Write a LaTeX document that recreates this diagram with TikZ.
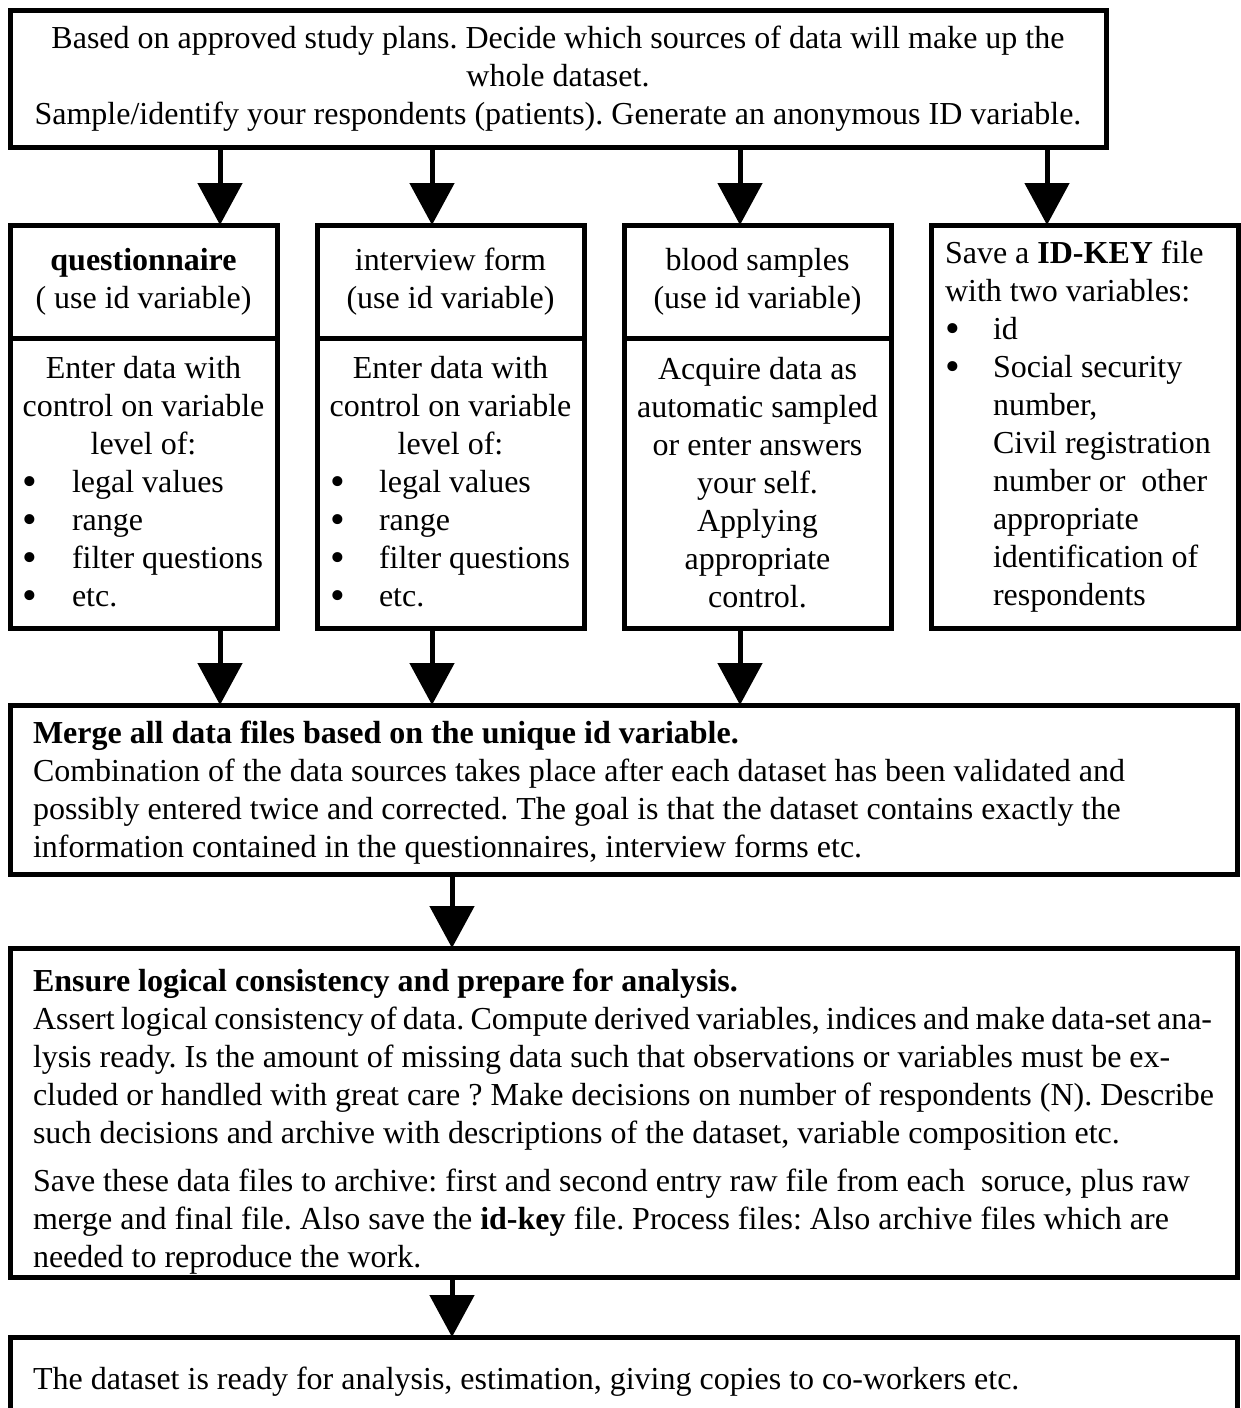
\documentclass[tikz,border=0pt]{standalone}
\usepackage{fontspec}
\setmainfont{Liberation Serif}
\usetikzlibrary{arrows.meta}
\frenchspacing

% round bullet a little larger than the text bullet
\newcommand{\dotmark}{\raisebox{-1.6pt}{\fontsize{21}{19}\selectfont\textbullet}}
% bullet with a fixed hanging indent, for the entry boxes and the key box
\newcommand{\itemdot}{\makebox[25.5pt][l]{\hspace{1pt}\dotmark}}
\newcommand{\keydot}{\makebox[24pt][l]{\dotmark}}
% left-aligned text block whose long lines may run past the nominal width
\newcommand{\wideblock}[1]{\makebox[590.5pt][l]{\parbox{606pt}{\raggedright #1}}}

\begin{document}
\begin{tikzpicture}[x=0.5pt,y=-0.5pt,
  box/.style={draw, rectangle, line width=2.5pt, inner sep=0pt, outer sep=0pt,
              anchor=north west, font=\fontsize{16}{19}\selectfont},
  flow/.style={line width=2.5pt, -{Triangle[width=22pt,length=21pt]}}]

\useasboundingbox (0,0) rectangle (1241,1408);
\clip (0,0) rectangle (1241,1408);

% planning box
\node[box, minimum width=548pt, minimum height=68.5pt] (plan) at (10,10)
  {\parbox{540pt}{\centering
   Based on approved study plans. Decide which sources of data will make up the\\
   whole dataset.\\
   Sample/identify your respondents (patients). Generate an anonymous ID variable.}};

% data sources: header and entry part
\node[box, minimum width=133.5pt, minimum height=56.5pt, align=center] (q1) at (10,225)
  {\textbf{questionnaire}\\( use id variable)};
\node[box, minimum width=133.5pt, minimum height=145pt] (q2) at (10,338)
  {\parbox{122.5pt}{\centering Enter data with\\control on variable\\level of:\par
   \raggedright\itemdot legal values\\\itemdot range\\\itemdot filter questions\\\itemdot etc.}};

\node[box, minimum width=133.5pt, minimum height=56.5pt, align=center] (i1) at (317,225)
  {interview form\\(use id variable)};
\node[box, minimum width=133.5pt, minimum height=145pt] (i2) at (317,338)
  {\parbox{122.5pt}{\centering Enter data with\\control on variable\\level of:\par
   \raggedright\itemdot legal values\\\itemdot range\\\itemdot filter questions\\\itemdot etc.}};

\node[box, minimum width=133.5pt, minimum height=56.5pt, align=center] (s1) at (624,225)
  {blood samples\\(use id variable)};
\node[box, minimum width=133.5pt, minimum height=145pt] (s2) at (624,338)
  {\parbox{125pt}{\centering Acquire data as\\automatic sampled\\or enter answers\\your self.\\
   Applying\\appropriate\\control.}};

% key file
\node[box, minimum width=153.5pt, minimum height=201.5pt] (key) at (931,225)
  {\parbox{139.5pt}{\raggedright Save a \textbf{ID-KEY} file\\with two variables:\\
   \keydot id\\\keydot Social security\\\hspace*{24pt}number,\\
   \hspace*{24pt}Civil registration\\\hspace*{24pt}number or\ \ other\\
   \hspace*{24pt}appropriate\\\hspace*{24pt}identification of\\\hspace*{24pt}respondents}};

% merge
\node[box, minimum width=613.5pt, minimum height=84.5pt] (merge) at (10,705)
  {\wideblock{\vspace*{3pt}\textbf{Merge all data files based on the unique id variable.}\\
   Combination of the data sources takes place after each dataset has been validated and\\
   possibly entered twice and corrected. The goal is that the dataset contains exactly the\\
   information contained in the questionnaires, interview forms etc.}};

% consistency and archiving
\node[box, minimum width=613.5pt, minimum height=164.5pt] (check) at (10,948)
  {\wideblock{\vspace*{9pt}\textbf{Ensure logical consistency and prepare for analysis.}\\
   \makebox[589.5pt][s]{Assert logical consistency of data. Compute derived variables, indices and make data-set ana-}\\
   lysis ready. Is the amount of missing data such that observations or variables must be ex-\\
   cluded or handled with great care ? Make decisions on number of respondents (N). Describe\\
   such decisions and archive with descriptions of the dataset, variable composition etc.\\[5pt]
   Save these data files to archive: first and second entry raw file from each\ \ soruce, plus raw\\
   merge and final file. Also save the \textbf{id-key} file. Process files: Also archive files which are\\
   needed to reproduce the work.}};

% ready dataset
\node[box, minimum width=613.5pt, minimum height=50pt] (ready) at (10,1337)
  {\wideblock{\vspace*{-5pt}The dataset is ready for analysis, estimation, giving copies to co-workers etc.}};

% arrow columns
\coordinate (xa) at (220,0);
\coordinate (xb) at (432,0);
\coordinate (xc) at (740,0);
\coordinate (xd) at (1047,0);
\coordinate (xm) at (452,0);

\draw[flow] (plan.south -| xa) -- (q1.north -| xa);
\draw[flow] (plan.south -| xb) -- (i1.north -| xb);
\draw[flow] (plan.south -| xc) -- (s1.north -| xc);
\draw[flow] (plan.south -| xd) -- (key.north -| xd);

\draw[flow] (q2.south -| xa) -- (merge.north -| xa);
\draw[flow] (i2.south -| xb) -- (merge.north -| xb);
\draw[flow] (s2.south -| xc) -- (merge.north -| xc);

\draw[flow] (merge.south -| xm) -- (check.north -| xm);
\draw[flow] (check.south -| xm) -- (ready.north -| xm);
\end{tikzpicture}
\end{document}
